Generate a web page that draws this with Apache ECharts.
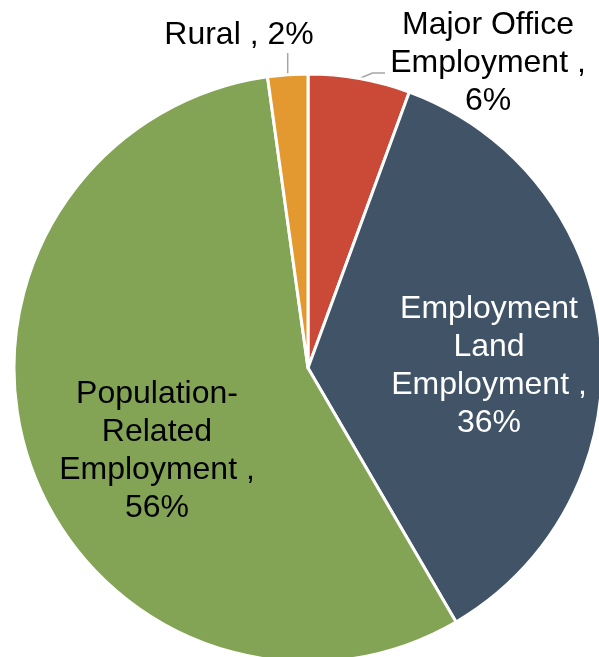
<!DOCTYPE html>
<html>
<head>
<meta charset="utf-8">
<script src="https://cdn.jsdelivr.net/npm/echarts@6/dist/echarts.min.js"></script>
<style>
html,body{margin:0;padding:0;background:#fff;}
#chart{width:599px;height:657px;}
</style>
</head>
<body>
<div id="chart"></div>
<script>
// Data (clockwise from 12 o'clock)
const categories = ["Major Office\nEmployment", "Employment\nLand\nEmployment", "Population-\nRelated\nEmployment", "Rural"];
const values = [5.6, 36.0, 56.2, 2.2];

// Styles
const colors = ["#CA4A37", "#415366", "#84A455", "#E3992F"];
const labelColors = ["#000000", "#FFFFFF", "#000000", "#000000"];
const outside = [true, false, false, true];
// label centres in px
const labelAnchors = [[488, 63], [489, 366], [157, 451], [239, 35]];

const chart = echarts.init(document.getElementById('chart'));
const data = categories.map((name, i) => ({
  name: name,
  value: values[i],
  itemStyle: { color: colors[i] },
  label: {
    position: outside[i] ? 'outside' : 'inside',
    color: labelColors[i]
  },
  labelLine: { show: outside[i] }
}));

chart.setOption({
  animation: false,
  series: [{
    type: 'pie',
    center: [308, 368],
    radius: 294,
    startAngle: 90,
    clockwise: true,
    percentPrecision: 0,
    avoidLabelOverlap: false,
    itemStyle: { borderColor: '#ffffff', borderWidth: 3 },
    emphasis: { disabled: true },
    label: {
      show: true,
      fontFamily: 'Liberation Sans, Arial, sans-serif',
      fontSize: 32,
      lineHeight: 38,
      align: 'center',
      formatter: function (p) {
        const multi = p.name.indexOf('\n') >= 0;
        return p.name + ' ,' + (multi ? '\n' : ' ') + p.percent + '%';
      }
    },
    labelLine: {
      length: 10,
      length2: 10,
      lineStyle: { color: '#A6A6A6', width: 1.5 }
    },
    labelLayout: function (params) {
      const i = params.dataIndex;
      const a = labelAnchors[i];
      const out = { x: a[0], y: a[1], align: 'center', verticalAlign: 'middle' };
      const pts = params.labelLinePoints;
      if (outside[i] && pts && pts.length) {
        const p0 = pts[0];
        if (i === 3) {
          out.labelLinePoints = [[p0[0], p0[1]], [p0[0], a[1] + 18], [p0[0], a[1] + 18]];
        } else {
          out.labelLinePoints = [[p0[0], p0[1]], [p0[0] + 13, a[1] + 10], [a[0] - 103, a[1] + 10]];
        }
      }
      return out;
    },
    data: data
  }]
});
</script>
</body>
</html>
